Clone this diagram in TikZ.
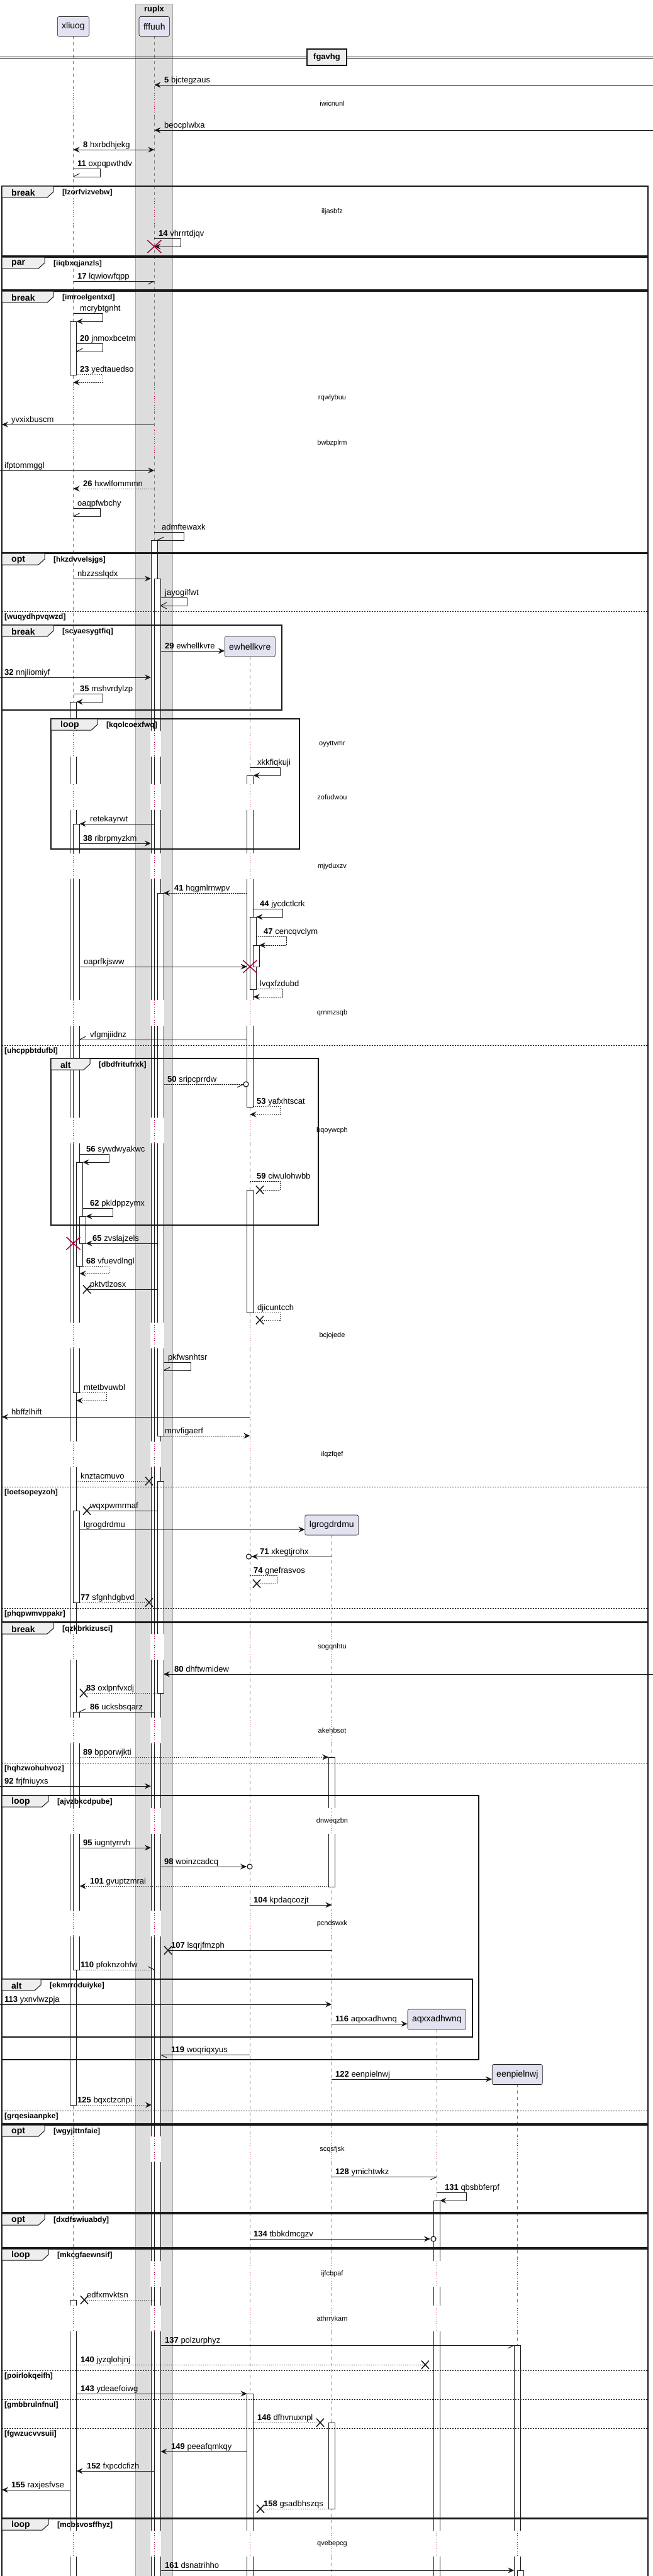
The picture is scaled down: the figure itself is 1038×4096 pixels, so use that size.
\documentclass[tikz,border=0pt]{standalone}
\usepackage{fontspec}
\setmainfont{Liberation Sans}
\usetikzlibrary{arrows.meta}
\definecolor{ink}{HTML}{181818}
\definecolor{pbox}{HTML}{E2E2F0}
\definecolor{band}{HTML}{DDDDDD}
\definecolor{bandl}{HTML}{A8A8A8}
\definecolor{tabf}{HTML}{EEEEEE}
\definecolor{life}{HTML}{7A7A7A}
\definecolor{rdot}{HTML}{A80036}
\tikzset{
 msg/.style={draw=ink, line width=1pt},
 dmsg/.style={draw=ink, line width=1pt, dash pattern=on 1.5pt off 1.5pt},
 fa/.style={-{Stealth[length=10pt,width=9pt,inset=3.5pt]}},
 fab/.style={{Stealth[length=10pt,width=9pt,inset=3.5pt]}-{Stealth[length=10pt,width=9pt,inset=3.5pt]}},
 lifel/.style={draw=life, line width=0.6pt, dash pattern=on 5pt off 5pt},
 rdl/.style={draw=rdot, line width=0.9pt, dash pattern=on 1pt off 2.5pt},
 actbar/.style={fill=white, draw=ink, line width=0.9pt},
 frline/.style={draw=ink, line width=1.5pt},
 tabst/.style={draw=ink, fill=tabf, line width=1pt},
 sepl/.style={draw=ink, line width=1pt, dash pattern=on 2pt off 2pt},
 lbl/.style={anchor=base west, inner sep=0pt, font=\fontsize{13}{15}\selectfont},
 dlt/.style={inner sep=0pt, font=\fontsize{11}{13}\selectfont},
 cnd/.style={anchor=west, inner sep=0pt, font=\bfseries\fontsize{12}{14}\selectfont},
 tabt/.style={anchor=west, inner sep=0pt, font=\bfseries\fontsize{14}{16}\selectfont},
 part/.style={draw=ink, fill=pbox, rounded corners=2.5pt, minimum height=31pt, inner xsep=7pt, inner ysep=0pt, line width=0.6pt, font=\fontsize{14}{16}\selectfont},
 rxs/.style={draw=rdot, line width=1.5pt},
 bxs/.style={draw=ink, line width=1.5pt},
}
\newcommand\qml[4]{\node[lbl] at (#1,#2-4) {\textbf{#3} #4};}
\newcommand\qmlx[3]{\node[lbl] at (#1,#2-4) {#3};}
\newcommand\qhb[3]{\draw[msg] (#1,#2) -- ++(#3);}
\newcommand\qself[6]{\draw[#1] (#2,#3) -- (#4,#3) -- (#4,#5) -- (#6,#5);}
\newcommand\qrx[2]{\draw[rxs] ({#1-11},{#2-10}) -- ({#1+11},{#2+10}) ({#1-11},{#2+10}) -- ({#1+11},{#2-10});}
\newcommand\qbx[2]{\draw[bxs] ({#1-6},{#2-6.5}) -- ({#1+6},{#2+6.5}) ({#1-6},{#2+6.5}) -- ({#1+6},{#2-6.5});}
\newcommand\qci[2]{\draw[ink, line width=1.2pt, fill=white] (#1,#2) circle [radius=4pt];}
\newcommand\qbar[4]{\draw[actbar] (#1,#3) rectangle (#2,#4);}
\newcommand\qpatch[3]{\fill[white] ({#1-0.8},{#3-21}) rectangle ({#2+0.8},{#3+20});}
\newcommand\qdly[2]{\node[dlt] at (528,#1) {#2};}
\newcommand\qfrm[7]{%
 \draw[frline] (#1,#2) rectangle (#3,#4);
 \draw[tabst] (#1,#2) -- ({#1+#5},#2) -- ({#1+#5},{#2+9}) -- ({#1+#5-10},{#2+18}) -- (#1,{#2+18}) -- cycle;
 \node[tabt] at ({#1+15},{#2+10}) {#6};
 \node[cnd] at ({#1+#5+14},{#2+10}) {#7};}
\newcommand\qels[4]{\draw[sepl] (#1,#3) -- (#2,#3); \node[cnd] at ({#1+4},{#3+9}) {#4};}
\newcommand\qlseg[2]{%
 \foreach \a/\b in {57/144,185/316,357/612,653/684,725/1162,1203/1247,1288/1357,1398/1590,1631/1777,1818/2103,2144/2292,2333/2598,2639/2731,2772/2875,2916/3038,3079/3397,3438/3595,3636/3666,3707/4024,4065/4110}{%
  \pgfmathsetmacro\qsA{max(\a,#2)}%
  \ifdim\qsA pt<\b pt \draw[lifel] (#1,\qsA) -- (#1,\b);\fi}}
\newcommand\qldot[2]{%
 \foreach \a/\b in {144/185,316/357,612/653,684/725,1162/1203,1247/1288,1357/1398,1590/1631,1777/1818,2103/2144,2292/2333,2598/2639,2731/2772,2875/2916,3038/3079,3397/3438,3595/3636,3666/3707,4024/4065}{%
  \ifdim #2pt<\a pt \draw[rdl] (#1,\a) -- (#1,\b);\fi}}
\begin{document}
\begin{tikzpicture}[x=1pt,y=-1pt]
\useasboundingbox (0,0) rectangle (1038,4096);
\clip (0,0) rectangle (1038,4096);
\fill[white] (0,0) rectangle (1038,4096);
% group band
\draw[fill=band, draw=bandl, line width=0.8pt] (215,6) rectangle (274,4120);
\node[font=\bfseries\fontsize{13}{15}\selectfont] (ruplx) at (245,15) {ruplx};
% lifelines
\qlseg{116.5}{57}
\qlseg{245.3}{57}
\qlseg{397.3}{1044}
\qlseg{527.3}{2441}
\qlseg{694.3}{3227}
\qlseg{822.3}{3314}
% participants
\node[part] (xliuog) at (116.5,42) {xliuog};
\node[part] (fffuuh) at (245.3,42) {fffuuh};
\node[part, minimum height=32pt] (ewhellkvre) at (397.3,1028) {ewhellkvre};
\node[part, minimum height=32pt] (lgrogdrdmu) at (527.3,2425) {lgrogdrdmu};
\node[part, minimum height=32pt] (aqxxadhwnq) at (694.3,3211) {aqxxadhwnq};
\node[part, minimum height=32pt] (eenpielnwj) at (822.3,3298.5) {eenpielnwj};
% activation bars
\qbar{111.5}{121.5}{511}{596}
\qbar{111.5}{121.5}{1116}{3347}
\qbar{116.5}{126.5}{1310}{2214}
\qbar{121.5}{131.5}{1848}{2013}
\qbar{126.5}{136.5}{1934}{1977}
\qbar{116.5}{126.5}{2402}{2548}
\qbar{116.5}{126.5}{2722}{3132}
\qbar{111.5}{121.5}{3657}{4120}
\qbar{240}{250}{859}{4120}
\qbar{245.3}{255.3}{920}{4120}
\qbar{250}{260}{1420}{2283}
\qbar{250}{260}{2355}{2692}
\qbar{392.7}{402.7}{1233}{1760}
\qbar{397.3}{407.3}{1458}{1573}
\qbar{402}{412}{1503}{1537}
\qbar{392.7}{402.7}{1892}{2087}
\qbar{392.7}{402.7}{3806}{4120}
\qbar{522.3}{532.3}{2794}{3000}
\qbar{522.3}{532.3}{3852}{3989}
\qbar{689.3}{699.3}{3499}{4120}
\qbar{817.3}{827.3}{3729}{4120}
\qbar{822.3}{832.3}{4087}{4120}
% delay patches
\qpatch{111.5}{121.5}{1183} \qpatch{240}{255.3}{1183}
\qpatch{111.5}{121.5}{1268} \qpatch{240}{255.3}{1268} \qpatch{392.7}{402.7}{1268}
\qpatch{111.5}{126.5}{1378} \qpatch{240}{255.3}{1378} \qpatch{392.7}{402.7}{1378}
\qpatch{111.5}{126.5}{1611} \qpatch{240}{260}{1611} \qpatch{392.7}{402.7}{1611}
\qpatch{111.5}{126.5}{1798} \qpatch{240}{260}{1798}
\qpatch{111.5}{126.5}{2124} \qpatch{240}{260}{2124}
\qpatch{111.5}{121.5}{2313} \qpatch{240}{255.3}{2313}
\qpatch{111.5}{121.5}{2619} \qpatch{240}{260}{2619}
\qpatch{111.5}{126.5}{2752} \qpatch{240}{255.3}{2752}
\qpatch{111.5}{126.5}{2896} \qpatch{240}{255.3}{2896} \qpatch{522.3}{532.3}{2896}
\qpatch{111.5}{126.5}{3059} \qpatch{240}{255.3}{3059}
\qpatch{240}{255.3}{3418}
\qpatch{240}{255.3}{3616} \qpatch{689.3}{699.3}{3616}
\qpatch{111.5}{121.5}{3687} \qpatch{240}{255.3}{3687} \qpatch{689.3}{699.3}{3687}
\qpatch{111.5}{121.5}{4045} \qpatch{240}{255.3}{4045} \qpatch{392.7}{402.7}{4045} \qpatch{689.3}{699.3}{4045} \qpatch{817.3}{827.3}{4045}
% red dotted lifelines in delays
\qldot{116.5}{57}
\qldot{245.3}{57}
\qldot{397.3}{1044}
\qldot{527.3}{2441}
\qldot{694.3}{3227}
\qldot{822.3}{3314}
% divider
\draw[ink, line width=1pt] (0,90) -- (1038,90) (0,93) -- (1038,93);
\node[draw=ink, fill=tabf, line width=2pt, minimum width=63pt, minimum height=26pt, inner sep=0pt, font=\bfseries\fontsize{13}{15}\selectfont] (div) at (519.5,91) {fgavhg};
% frames
\qfrm{3}{296}{1030}{407}{82}{break}{[lzorfvizvebw]}
\qfrm{3}{409}{1030}{461}{68}{par}{[iiqbxqjanzls]}
\qfrm{3}{463}{1030}{879}{82}{break}{[imroelgentxd]}
\qfrm{3}{880}{1030}{2579}{68}{opt}{[hkzdvvelsjgs]}
\qels{3}{1030}{972}{[wuqydhpvqwzd]}
\qels{3}{1030}{1662}{[uhcppbtdufbl]}
\qels{3}{1030}{2364}{[loetsopeyzoh]}
\qels{3}{1030}{2557}{[phqpwmvppakr]}
\qfrm{3}{994}{448}{1129}{82}{break}{[scyaesygtfiq]}
\qfrm{81}{1143}{476}{1350}{74}{loop}{[kqolcoexfwq]}
\qfrm{81}{1683}{506}{1948}{62}{alt}{[dbdfritufrxk]}
\qfrm{3}{2580}{1030}{3377}{82}{break}{[qzkbrkizusci]}
\qels{3}{1030}{2803}{[hqhzwohuhvoz]}
\qels{3}{1030}{3356}{[grqesiaanpke]}
\qfrm{3}{2855}{761}{3275}{74}{loop}{[ajvzbkcdpube]}
\qfrm{3}{3147}{751}{3239}{62}{alt}{[ekmrroduiyke]}
\qfrm{3}{3379}{1030}{3518}{68}{opt}{[wgyjlttnfaie]}
\qfrm{3}{3520}{1030}{3574}{68}{opt}{[dxdfswiuabdy]}
\qfrm{3}{3576}{1030}{4004}{74}{loop}{[mkcgfaewnsif]}
\qels{3}{1030}{3769}{[poirlokqeifh]}
\qels{3}{1030}{3815}{[gmbbrulnfnul]}
\qels{3}{1030}{3861}{[fgwzucvvsuii]}
\qfrm{3}{4005}{1030}{4130}{74}{loop}{[mcbsvosffhyz]}
% delays
\qdly{165}{iwicnunl}
\qdly{337}{iljasbfz}
\qdly{633}{rqwlybuu}
\qdly{705}{bwbzplrm}
\qdly{1183}{oyyttvmr}
\qdly{1268}{zofudwou}
\qdly{1378}{mjyduxzv}
\qdly{1611}{qrnmzsqb}
\qdly{1798}{bqoywcph}
\qdly{2124}{bcjojede}
\qdly{2313}{ilqzfqef}
\qdly{2619}{sogqnhtu}
\qdly{2752}{akehbsot}
\qdly{2896}{dnweqzbn}
\qdly{3059}{pcndswxk}
\qdly{3418}{scqsfjsk}
\qdly{3616}{ijfcbpaf}
\qdly{3687}{athrrvkam}
\qdly{4045}{qvebepcg}
% messages
\draw[msg,fa] (1038,135) -- (245.3,135); \qml{261}{135}{5}{bjctegzaus}
\draw[msg,fa] (1038,207) -- (245.3,207); \qmlx{261}{207}{beocplwlxa}
\draw[msg,fab] (116.5,238) -- (245.3,238); \qml{132}{238}{8}{hxrbdhjekg}
\qself{msg}{116.5}{268}{159}{281}{116.5} \qhb{116.5}{281}{10,-5} \qml{123}{268}{11}{oxpqpwthdv}
\qself{msg,fa}{245.3}{379}{287}{392}{245.3} \qrx{245.3}{392} \qml{252}{379}{14}{vhrrrtdjqv}
\draw[msg] (116.5,447) -- (245.3,447); \qhb{245.3}{447}{-10,5} \qml{123}{447}{17}{lqwiowfqpp}
\qself{msg,fa}{116.5}{498}{163}{511}{121.5} \qmlx{127}{498}{mcrybtgnht}
\qself{msg}{121.5}{546}{163}{559}{121.5} \qhb{121.5}{559}{10,-5} \qml{127}{546}{20}{jnmoxbcetm}
\qself{dmsg,fa}{121.5}{595}{163}{608}{116.5} \qml{127}{595}{23}{yedtauedso}
\draw[msg,fa] (245.3,675) -- (3,675); \qmlx{18}{675}{yvxixbuscm}
\draw[msg,fa] (0,748) -- (245.3,748); \qmlx{7}{748}{ifptommggl}
\draw[dmsg,fa] (245.3,777) -- (116.5,777); \qml{132}{777}{26}{hxwlfommmn}
\qself{msg}{116.5}{808}{159}{821}{116.5} \qhb{116.5}{821}{10,-5} \qmlx{123}{808}{oaqpfwbchy}
\qself{msg}{245.3}{846}{292}{859}{250} \qhb{250}{859}{10,-5} \qmlx{257}{846}{admftewaxk}
\draw[msg,fa] (116.5,920) -- (240,920); \qmlx{123}{920}{nbzzsslqdx}
\qself{msg}{255.3}{950}{297}{963}{255.3} \draw[msg] (265,958) -- (255.3,963) -- (265,968); \qmlx{262}{950}{jayogilfwt}
\draw[msg,fa] (255.3,1035) -- (ewhellkvre.west |- 0,1035); \qml{262}{1035}{29}{ewhellkvre}
\draw[msg,fa] (0,1077) -- (240,1077); \qml{7}{1077}{32}{nnjliomiyf}
\qself{msg,fa}{116.5}{1103}{163}{1116}{121.5} \qml{127}{1103}{35}{mshvrdylzp}
\qself{msg,fa}{397.3}{1220}{445}{1233}{402.7} \qmlx{409}{1220}{xkkfiqkuji}
\draw[msg,fa] (245.3,1310) -- (126.5,1310); \qmlx{143}{1310}{retekayrwt}
\draw[msg,fa] (126.5,1341) -- (240,1341); \qml{132}{1341}{38}{ribrpmyzkm}
\draw[dmsg,fa] (392.7,1420) -- (260,1420); \qml{277}{1420}{41}{hqgmlrnwpv}
\qself{msg,fa}{402.7}{1445}{449}{1458}{407.3} \qml{413}{1445}{44}{jycdctlcrk}
\qself{dmsg,fa}{407.3}{1489}{455}{1503}{412} \qml{419}{1489}{47}{cencqvclym}
\draw[msg,fa] (126.5,1537) -- (392.7,1537); \qrx{397.3}{1537} \qmlx{133}{1537}{oaprfkjsww}
\qself{dmsg,fa}{407.3}{1572}{449}{1585}{402.7} \qmlx{413}{1572}{lvqxfzdubd}
\draw[msg] (392.7,1653) -- (126.5,1653); \qhb{126.5}{1653}{10,-5} \qmlx{143}{1653}{vfgmjiidnz}
\draw[dmsg] (260,1724) -- (387,1724); \qhb{387}{1724}{-10,5} \qci{391}{1724} \qml{266}{1724}{50}{sripcprrdw}
\qself{dmsg,fa}{402.7}{1759}{445}{1772}{397.3} \qml{408}{1759}{53}{yafxhtscat}
\qself{msg,fa}{126.5}{1835}{173}{1848}{131.5} \qml{137}{1835}{56}{sywdwyakwc}
\qself{dmsg}{397.3}{1878}{445}{1892}{413} \qbx{413}{1892} \qml{408}{1878}{59}{ciwulohwbb}
\qself{msg,fa}{131.5}{1921}{179}{1934}{136.5} \qml{143}{1921}{62}{pkldppzymx}
\draw[msg,fa] (250,1977) -- (136.5,1977); \qrx{116.5}{1977} \qml{147}{1977}{65}{zvslajzels}
\qself{dmsg,fa}{131.5}{2013}{173}{2025}{126.5} \qml{137}{2013}{68}{vfuevdlngl}
\draw[msg] (250,2050) -- (138,2050); \qbx{138}{2050} \qmlx{143}{2050}{pktvtlzosx}
\qself{dmsg}{402.7}{2087}{445}{2099}{413} \qbx{413}{2099} \qmlx{409}{2087}{djicuntcch}
\qself{msg}{260}{2166}{303}{2179}{260} \qhb{260}{2179}{10,-5} \qmlx{267}{2166}{pkfwsnhtsr}
\qself{dmsg,fa}{126.5}{2214}{169}{2227}{121.5} \qmlx{133}{2214}{mtetbvuwbl}
\draw[msg,fa] (397.3,2253) -- (3,2253); \qmlx{18}{2253}{hbffzlhift}
\draw[dmsg,fa] (260,2283) -- (397.3,2283); \qmlx{262}{2283}{mnvfigaerf}
\draw[dmsg] (121.5,2355) -- (237,2355); \qbx{237}{2355} \qmlx{128}{2355}{knztacmuvo}
\draw[msg] (250,2402) -- (138,2402); \qbx{138}{2402} \qmlx{143}{2402}{wqxpwmrmaf}
\draw[msg,fa] (126.5,2432) -- (lgrogdrdmu.west |- 0,2432); \qmlx{133}{2432}{lgrogdrdmu}
\draw[msg,fa] (527.3,2475) -- (400,2475); \qci{395.5}{2475} \qml{413}{2475}{71}{xkegtjrohx}
\qself{dmsg}{397.3}{2505}{440}{2518}{408} \qbx{408}{2518} \qml{403}{2505}{74}{gnefrasvos}
\draw[dmsg] (126.5,2548) -- (237,2548); \qbx{237}{2548} \qml{128}{2548}{77}{sfgnhdgbvd}
\draw[msg,fa] (1038,2662) -- (260,2662); \qml{277}{2662}{80}{dhftwmidew}
\draw[dmsg] (250,2692) -- (133,2692); \qbx{133}{2692} \qml{137}{2692}{83}{oxlpnfvxdj}
\draw[msg] (245.3,2722) -- (126.5,2722); \qhb{126.5}{2722}{10,-5} \qml{143}{2722}{86}{ucksbsqarz}
\draw[dmsg,fa] (126.5,2794) -- (522.3,2794); \qml{132}{2794}{89}{bpporwjkti}
\draw[msg,fa] (0,2840) -- (240,2840); \qml{7}{2840}{92}{frjfniuyxs}
\draw[msg,fa] (126.5,2938) -- (240,2938); \qml{132}{2938}{95}{iugntyrrvh}
\draw[msg,fa] (255.3,2968) -- (392,2968); \qci{397}{2968} \qml{261}{2968}{98}{woinzcadcq}
\draw[dmsg,fa] (522.3,2999) -- (126.5,2999); \qml{143}{2999}{101}{gvuptzmrai}
\draw[msg,fa] (397.3,3029) -- (527.3,3029); \qml{403}{3029}{104}{kpdaqcozjt}
\draw[msg] (527.3,3101) -- (267,3101); \qbx{267}{3101} \qml{272}{3101}{107}{lsqrjfmzph}
\draw[dmsg] (126.5,3132) -- (245.3,3132); \qhb{245.3}{3132}{-10,-5} \qml{128}{3132}{110}{pfoknzohfw}
\draw[msg,fa] (0,3187) -- (527.3,3187); \qml{7}{3187}{113}{yxnvlwzpja}
\draw[msg,fa] (527.3,3218) -- (aqxxadhwnq.west |- 0,3218); \qml{533}{3218}{116}{aqxxadhwnq}
\draw[msg] (397.3,3267) -- (255.3,3267); \qhb{255.3}{3267}{10,5} \qml{272}{3267}{119}{woqriqxyus}
\draw[msg,fa] (527.3,3306) -- (eenpielnwj.west |- 0,3306); \qml{533}{3306}{122}{eenpielnwj}
\draw[dmsg,fa] (121.5,3347) -- (241,3347); \qml{123}{3347}{125}{bqxctzcnpi}
\draw[msg] (527.3,3461) -- (694.3,3461); \qhb{694.3}{3461}{-10,5} \qml{533}{3461}{128}{ymichtwkz}
\qself{msg,fa}{694.3}{3486}{741}{3499}{699.3} \qml{707}{3486}{131}{qbsbbferpf}
\draw[msg,fa] (397.3,3560) -- (684,3560); \qci{689}{3560} \qml{403}{3560}{134}{tbbkdmcgzv}
\draw[dmsg] (245.3,3657) -- (134,3657); \qbx{134}{3657} \qmlx{138}{3657}{edfxmvktsn}
\draw[msg] (255.3,3729) -- (817.3,3729); \qhb{817.3}{3729}{-10,5} \qml{262}{3729}{137}{polzurphyz}
\draw[dmsg] (121.5,3760) -- (676,3760); \qbx{676}{3760} \qml{128}{3760}{140}{jyzqlohjnj}
\draw[msg,fa] (121.5,3806) -- (392.7,3806); \qml{128}{3806}{143}{ydeaefoiwg}
\draw[dmsg] (402.7,3852) -- (509,3852); \qbx{509}{3852} \qml{409}{3852}{146}{dfhvnuxnpl}
\draw[msg,fa] (392.7,3898) -- (255.3,3898); \qml{272}{3898}{149}{peeafqmkqy}
\draw[msg,fa] (245.3,3929) -- (121.5,3929); \qml{138}{3929}{152}{fxpcdcfizh}
\draw[msg,fa] (111.5,3959) -- (3,3959); \qml{18}{3959}{155}{raxjesfvse}
\draw[dmsg] (522.3,3989) -- (414,3989); \qbx{414}{3989} \qml{419}{3989}{158}{gsadbhszqs}
\draw[msg,fa] (255.3,4087) -- (817.3,4087); \qml{262}{4087}{161}{dsnatrihho}
\end{tikzpicture}
\end{document}
